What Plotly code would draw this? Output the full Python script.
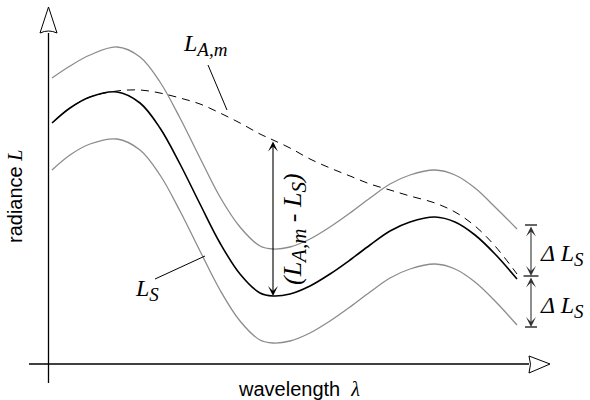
import plotly.graph_objects as go

# wavelength grid (picture units) and radiance curves
wavelength = [52, 70, 90, 117, 140, 160, 180, 200, 220, 240, 260, 273, 290, 310,
              330, 350, 370, 390, 410, 435, 455, 475, 495, 517]
L_S = [123, 108, 97, 92, 103, 128, 164, 204, 243, 274, 293, 296, 294, 286,
       274, 260, 245, 231, 222, 217, 222, 235, 254, 279]
L_S_plus = [78, 66, 55, 47, 57, 82, 118, 158, 197, 227, 246, 249, 247, 239,
            227, 213, 198, 184, 175, 170, 175, 188, 207, 229]
L_S_minus = [170, 155, 144, 139, 150, 175, 211, 251, 290, 321, 340, 343, 341, 333,
             321, 307, 292, 278, 269, 264, 269, 282, 301, 325]
L_Am = [123, 108, 97, 91, 90, 93, 98, 104, 113, 123, 134, 140, 148, 159,
        168, 176, 184, 190, 196, 203, 212, 226, 246, 274]

# axes frame (picture units)
x_axis = dict(x0=29, x1=529, y=364)
y_axis = dict(x=48.5, y0=33, y1=383)
diff_x, diff_top, diff_bot = 273, 140, 296
delta_x, delta_levels = 531, [225, 276, 327]

SERIF = "Liberation Serif"
SANS = "Liberation Sans"
GRAY = "#8c8c8c"

fig = go.Figure()
fig.add_trace(go.Scatter(x=wavelength, y=L_S_plus, mode="lines",
                         line=dict(color=GRAY, width=1.3, shape="spline"), hoverinfo="skip"))
fig.add_trace(go.Scatter(x=wavelength, y=L_S_minus, mode="lines",
                         line=dict(color=GRAY, width=1.3, shape="spline"), hoverinfo="skip"))
fig.add_trace(go.Scatter(x=wavelength, y=L_Am, mode="lines",
                         line=dict(color="black", width=1, dash="8px,6px", shape="spline"), hoverinfo="skip"))
fig.add_trace(go.Scatter(x=wavelength, y=L_S, mode="lines",
                         line=dict(color="black", width=1.6, shape="spline"), hoverinfo="skip"))

shapes = []
# axes
shapes.append(dict(type="line", x0=x_axis["x0"], x1=x_axis["x1"], y0=x_axis["y"], y1=x_axis["y"],
                   line=dict(color="black", width=1.3)))
shapes.append(dict(type="line", x0=y_axis["x"], x1=y_axis["x"], y0=y_axis["y0"], y1=y_axis["y1"],
                   line=dict(color="black", width=1.3)))
shapes.append(dict(type="path", path="M 40,33 L 48.5,7 L 57,33 Q 48.5,29 40,33 Z",
                   line=dict(color="black", width=1)))
shapes.append(dict(type="path", path="M 529,356 L 550,364 L 529,373 Q 532,364 529,356 Z",
                   line=dict(color="black", width=1)))
# leader lines
shapes.append(dict(type="line", x0=208, y0=65, x1=227, y1=110, line=dict(color="black", width=1)))
shapes.append(dict(type="line", x0=155, y0=279, x1=205, y1=256, line=dict(color="black", width=1)))
# delta ticks
for yv, w in zip(delta_levels, [6, 7.5, 6]):
    shapes.append(dict(type="line", x0=delta_x - w, x1=delta_x + w, y0=yv, y1=yv,
                       line=dict(color="black", width=1.2)))

ann = []
# double arrows
def dbl(x, y0, y1, color):
    ann.append(dict(x=x, y=y1, ax=x, ay=y0, xref="x", yref="y", axref="x", ayref="y",
                    showarrow=True, arrowhead=3, startarrowhead=3, arrowside="end+start",
                    arrowsize=1.5, startarrowsize=1.5, arrowwidth=1.1, arrowcolor=color, text=""))

dbl(diff_x, diff_top, diff_bot, "black")
dbl(delta_x, delta_levels[0], delta_levels[1], "#333333")
dbl(delta_x, delta_levels[1], delta_levels[2], "#333333")

def txt(x, y, t, size=24, family=SERIF, angle=0, xanchor="center"):
    ann.append(dict(x=x, y=y, xref="x", yref="y", text=t, showarrow=False, textangle=angle,
                    xanchor=xanchor, yanchor="middle",
                    font=dict(family=family, size=size, color="black")))

sub = lambda s, fs=19: '<sub><span style="font-size:%dpx">' % fs + s + '</span></sub>'
txt(181, 45, "<i>L" + sub("A,m") + "</i>", xanchor="left")
txt(147, 290, "<i>L" + sub("S") + "</i>")
txt(294, 229, "<i>(L" + sub("A,m", 21) + " - L" + sub("S", 21) + ")</i>", size=26, angle=-90)
txt(538, 255, "<i>Δ L" + sub("S") + "</i>", xanchor="left")
txt(538, 307, "<i>Δ L" + sub("S") + "</i>", xanchor="left")
txt(299, 389, 'wavelength&nbsp;&nbsp;<i><span style="font-family:Liberation Serif">λ</span></i>',
    size=20, family=SANS)
txt(15, 197, 'radiance <i><span style="font-family:Liberation Serif">L</span></i>',
    size=20, family=SANS, angle=-90)

fig.update_layout(
    width=590, height=400, margin=dict(l=0, r=0, t=0, b=0),
    paper_bgcolor="white", plot_bgcolor="white", showlegend=False,
    xaxis=dict(range=[0, 590], visible=False, fixedrange=True),
    yaxis=dict(range=[400, 0], visible=False, fixedrange=True),
    shapes=shapes, annotations=ann,
)
fig.write_html("out.html", config={"displayModeBar": False},
               post_script="document.body.style.margin='0';document.body.style.overflow='hidden';")
